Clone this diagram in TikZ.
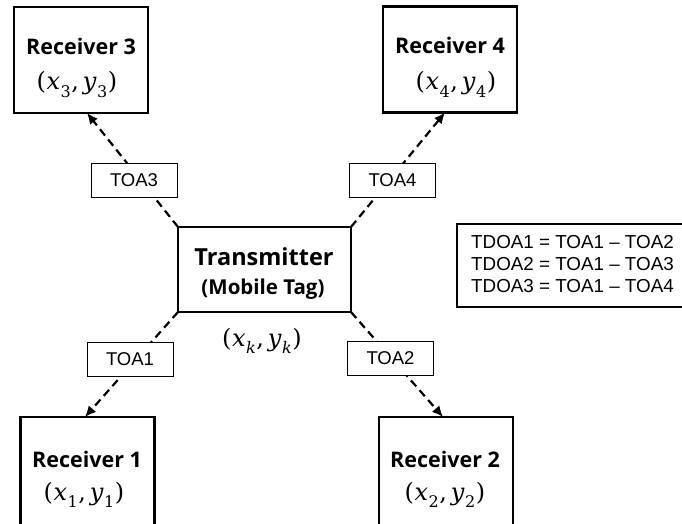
\documentclass[tikz,border=0pt]{standalone}
\usepackage{fontspec}
\setmainfont{Open Sans}
\newfontfamily\arialf{Liberation Sans}
\newfontfamily\crdf{DejaVu Serif}
\usetikzlibrary{arrows.meta}
\newcommand{\crdsub}[1]{\raisebox{-0.3em}{\fontsize{16}{18}\selectfont #1}}
\newcommand{\crd}[1]{{\crdf\fontsize{24}{27}\selectfont(\kern0.5pt\textit{x}\kern0.5pt\crdsub{#1}\kern0.5pt,\kern4pt\textit{y}\kern0.5pt\crdsub{#1}\kern0.5pt)}}
\begin{document}
\begin{tikzpicture}[x=1pt,y=-1pt,
  rbox/.style={draw,line width=2.6pt,inner sep=0pt,outer sep=0pt,minimum width=134pt,minimum height=106pt},
  rtext/.style={anchor=base,font=\fontsize{21.5}{24}\selectfont\bfseries,inner sep=0pt},
  ctext/.style={anchor=base,inner sep=0pt},
  toa/.style={draw,fill=white,line width=0.9pt,inner sep=0pt,outer sep=0pt,minimum width=86pt,minimum height=34pt,font=\arialf\fontsize{18.5}{22}\selectfont},
  dtext/.style={anchor=base west,inner sep=0pt,font=\arialf\fontsize{18.8}{22}\selectfont},
  conn/.style={line width=2.2pt,dash pattern=on 8pt off 5pt,-{Latex[length=11pt,width=10pt]}}]
\useasboundingbox (0,0) rectangle (682,524);
% receivers
\node[rbox] (R3) at (81,60) {};
\node[rbox] (R4) at (450,59.5) {};
\node[rbox,minimum height=109pt] (R1) at (87.5,471.5) {};
\node[rbox,minimum height=109pt] (R2) at (446,471.5) {};
\node[rtext] (R3t) at (81,55) {Receiver 3};
\node[ctext] (R3c) at (77,90) {\crd{3}};
\node[rtext] (R4t) at (450,54) {Receiver 4};
\node[ctext] (R4c) at (456,90) {\crd{4}};
\node[rtext] (R1t) at (87,467) {Receiver 1};
\node[ctext] (R1c) at (84,500) {\crd{1}};
\node[rtext] (R2t) at (445,467) {Receiver 2};
\node[ctext] (R2c) at (445,500) {\crd{2}};
% transmitter
\node[draw,line width=2.6pt,inner sep=0pt,outer sep=0pt,minimum width=173pt,minimum height=85pt] (T) at (264.5,269.5) {};
\node[anchor=base,inner sep=0pt,font=\fontsize{23.5}{26}\selectfont\bfseries] (Tt) at (264,265) {Transmitter};
\node[anchor=base,inner sep=0pt,font=\fontsize{20.5}{24}\selectfont\bfseries] (Tm) at (263,294) {(Mobile Tag)};
\node[ctext] (Tc) at (262,346) {\crd{\textit{k}}};
% arrow end points
\coordinate (e3) at (87,0);
\coordinate (e4) at (445,0);
\coordinate (e1) at (85,0);
\coordinate (e2) at (443,0);
\draw[conn] (T.north west) -- (e3 |- R3.south);
\draw[conn] (T.north east) -- (e4 |- R4.south);
\draw[conn] (T.south west) -- (e1 |- R1.north);
\draw[conn] (T.south east) -- (e2 |- R2.north);
% TOA labels
\node[toa] (L3) at (134,180) {TOA3};
\node[toa] (L4) at (392.5,180.5) {TOA4};
\node[toa] (L1) at (130,359) {TOA1};
\node[toa] (L2) at (390.5,358) {TOA2};
% TDOA box
\node[draw,line width=1.1pt,inner sep=0pt,outer sep=0pt,anchor=north west,minimum width=227pt,minimum height=83pt] (D) at (457,224) {};
\node[dtext] (D1) at (471,248) {TDOA1 = TOA1 – TOA2};
\node[dtext] (D2) at (471,270) {TDOA2 = TOA1 – TOA3};
\node[dtext] (D3) at (471,292) {TDOA3 = TOA1 – TOA4};
\end{tikzpicture}
\end{document}
